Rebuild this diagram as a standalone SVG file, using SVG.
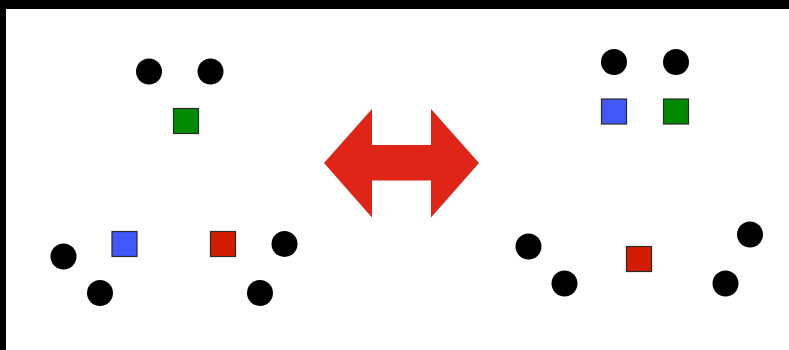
<svg xmlns="http://www.w3.org/2000/svg" width="789" height="350" viewBox="0 0 789 350">
<style>
.dot{fill:#000}
.sq{stroke:#2a2a2a;stroke-width:1.2}
.blue{fill:#4257f7}
.green{fill:#008a00}
.red{fill:#d41d00}
</style>
<rect width="789" height="350" fill="#fff"/>
<rect x="0" y="0" width="789" height="9" fill="#000"/>
<rect x="0" y="0" width="6" height="350" fill="#000"/>
<g id="left-group">
<circle class="dot" cx="149" cy="71.5" r="13"/>
<circle class="dot" cx="210.5" cy="71.5" r="13"/>
<rect class="sq green" x="173.5" y="108.5" width="25" height="25"/>
<circle class="dot" cx="63.5" cy="256.5" r="13"/>
<circle class="dot" cx="100" cy="293" r="13"/>
<rect class="sq blue" x="112" y="231.5" width="25" height="25"/>
<rect class="sq red" x="210.5" y="231.5" width="25" height="25"/>
<circle class="dot" cx="284.5" cy="244" r="13"/>
<circle class="dot" cx="260" cy="293" r="13"/>
</g>
<g id="arrow">
<polygon points="324,163 372,109 372,145 431,145 431,109 479,163 431,217.5 431,180.5 372,180.5 372,217.5" fill="#df2418"/>
</g>
<g id="right-group">
<circle class="dot" cx="614" cy="62" r="13"/>
<circle class="dot" cx="676" cy="62" r="13"/>
<rect class="sq blue" x="601.5" y="99" width="25" height="25"/>
<rect class="sq green" x="663.5" y="99" width="25" height="25"/>
<circle class="dot" cx="528.5" cy="246.5" r="13"/>
<circle class="dot" cx="564.5" cy="283.5" r="13"/>
<rect class="sq red" x="626.5" y="246.5" width="25" height="25"/>
<circle class="dot" cx="750" cy="234.5" r="13"/>
<circle class="dot" cx="725.5" cy="283.5" r="13"/>
</g>
</svg>
